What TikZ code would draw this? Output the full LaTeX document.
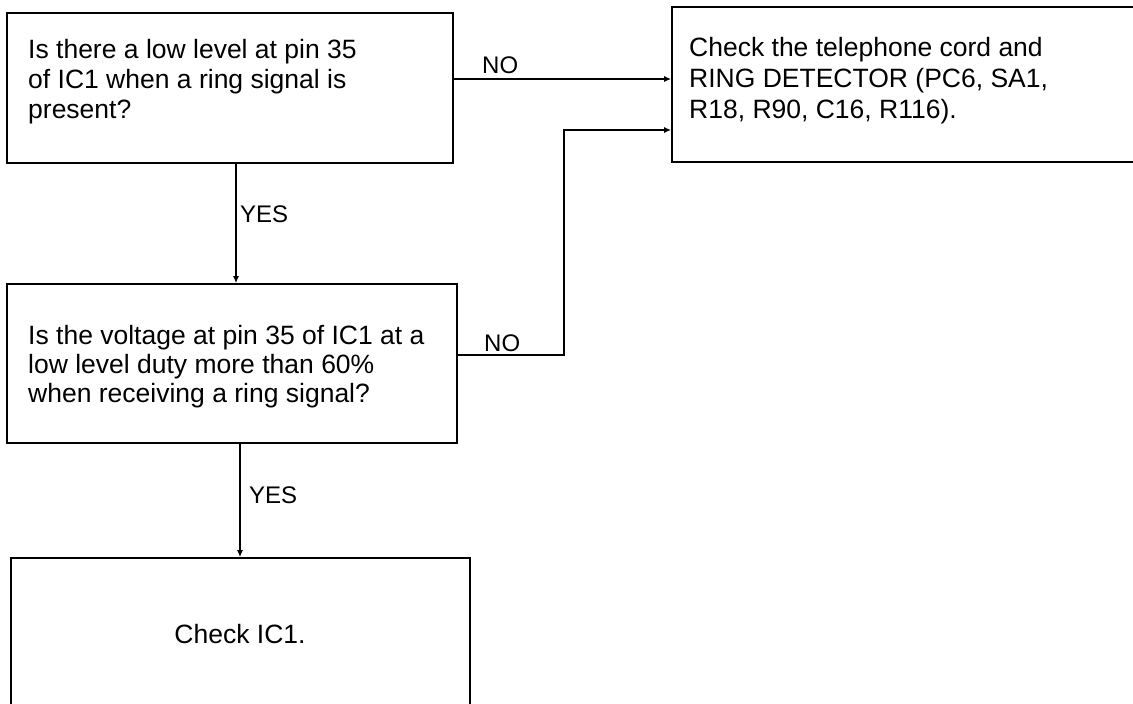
\documentclass[tikz,border=0pt]{standalone}
\usepackage{fontspec}
\setmainfont{Liberation Sans}
\usetikzlibrary{arrows.meta}
\begin{document}
\begin{tikzpicture}[x=1pt,y=-1pt,
  box/.style={draw, line width=1.7pt, rectangle, inner sep=0pt},
  txt/.style={font=\fontsize{26.5}{30}\selectfont, align=left, inner sep=0pt, anchor=north west},
  lbl/.style={font=\fontsize{24}{28}\selectfont, inner sep=0pt, anchor=base west},
  conn/.style={line width=1.6pt, -{Latex[length=7pt,width=6pt]}}]
\useasboundingbox (0,0) rectangle (1133,704);
% boxes
\node[box, minimum width=446pt, minimum height=150pt] (b1) at (230,88) {};
\node[box, minimum width=478pt, minimum height=155pt] (b2) at (911,84.5) {};
\node[box, minimum width=450pt, minimum height=159pt] (b3) at (232,363.5) {};
\node[box, minimum width=459pt, minimum height=162pt] (b4) at (240.5,639) {};
% texts
\node[txt] (t1) at (28,39) {Is there a low level at pin 35\\of IC1 when a ring signal is\\present?};
\node[txt, font=\fontsize{26.5}{31}\selectfont] (t2) at (689,37) {Check the telephone cord and\\RING DETECTOR (PC6, SA1,\\R18, R90, C16, R116).};
\node[txt, font=\fontsize{26.5}{29}\selectfont] (t3) at (28,325) {Is the voltage at pin 35 of IC1 at a\\low level duty more than 60\%\\when receiving a ring signal?};
\node[font=\fontsize{26.5}{30}\selectfont, inner sep=0pt, anchor=base] (t4) at (240,643) {Check IC1.};
% helper coordinates
\coordinate (y1) at (560,79);
\coordinate (x1) at (236,0);
\coordinate (bend) at (564,355);
\coordinate (top2) at (564,130);
\coordinate (x2) at (240,0);
% connectors
\draw[conn] (y1 -| b1.east) -- (y1 -| b2.west);
\draw[conn] (x1 |- b1.south) -- (x1 |- b3.north);
\draw[conn] (bend -| b3.east) -- (bend) -- (top2) -- (top2 -| b2.west);
\draw[conn] (x2 |- b3.south) -- (x2 |- b4.north);
% labels
\node[lbl] (no1) at (482,73) {NO};
\node[lbl] (no2) at (484,351) {NO};
\node[lbl] (yes1) at (240,222) {YES};
\node[lbl] (yes2) at (249,503) {YES};
\end{tikzpicture}
\end{document}
